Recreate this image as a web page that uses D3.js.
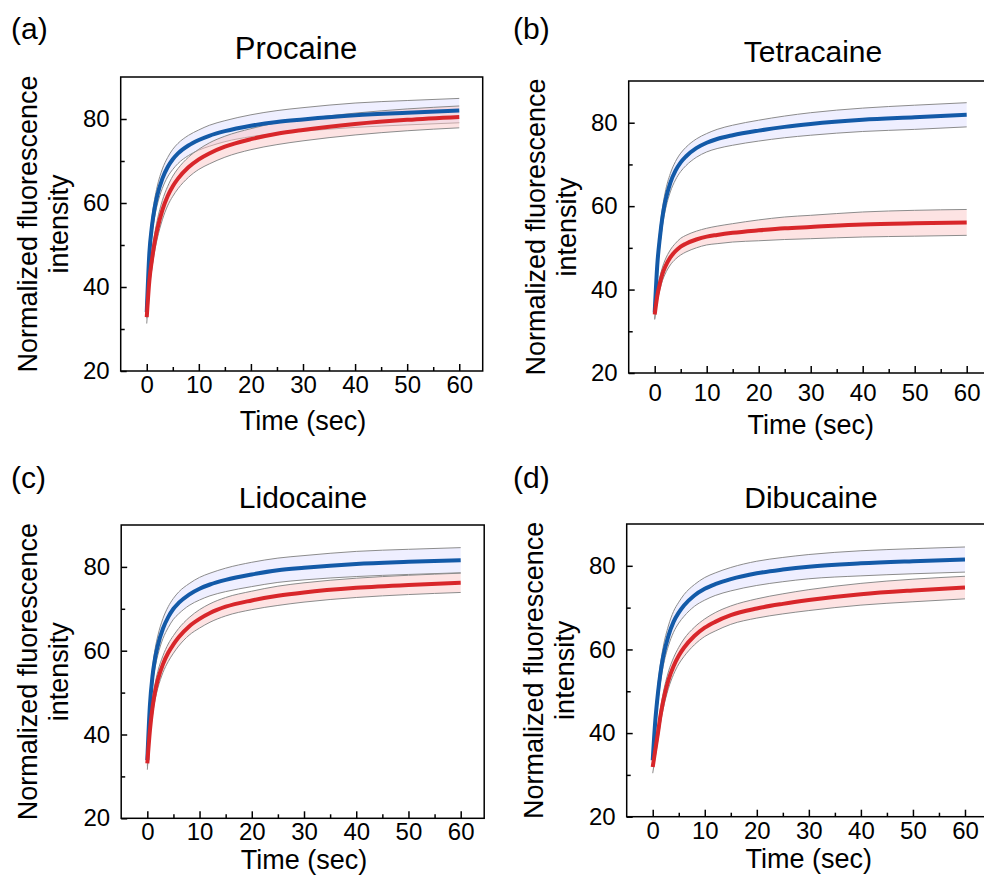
<!DOCTYPE html>
<html>
<head>
<meta charset="utf-8">
<script src="https://cdn.jsdelivr.net/npm/d3@7"></script>
<style>
  html, body { margin: 0; padding: 0; background: #fff; }
  svg { display: block; }
  text { font-family: Arial, "Liberation Sans", Helvetica, sans-serif; fill: #000; }
</style>
</head>
<body>
<svg id="chart" width="984" height="883"></svg>
<script>
// ---------------- data ----------------
const times = [0, 0.5, 1, 1.5, 2, 3, 4, 5, 6, 8, 10, 12, 15, 20, 25, 30, 40, 50, 60];
const panelLabels = ["(a)", "(b)", "(c)", "(d)"];
const titles = ["Procaine", "Tetracaine", "Lidocaine", "Dibucaine"];
const xTicks = [0, 10, 20, 30, 40, 50, 60];
const xMinorTicks = [5, 15, 25, 35, 45, 55];
const yTicks = [20, 40, 60, 80];
const yMinorTicks = [30, 50, 70];
const xLabel = "Time (sec)";
const yLabelLines = ["Normalized fluorescence", "intensity"];

// Procaine
const blueA   = [34.0, 48.0, 54.5, 58.7, 61.7, 65.8, 68.5, 70.4, 71.8, 73.7, 75.0, 76.0, 77.1, 78.4, 79.3, 79.9, 80.9, 81.5, 82.0];
const blueSdA = [1.5, 1.8, 2.0, 2.1, 2.2, 2.3, 2.3, 2.4, 2.4, 2.4, 2.4, 2.5, 2.5, 2.6, 2.7, 2.8, 2.9, 2.9, 2.9];
const redA    = [32.8, 41.5, 46.5, 50.5, 53.6, 58.3, 61.6, 64.0, 65.8, 68.5, 70.4, 71.8, 73.4, 75.2, 76.5, 77.4, 78.8, 79.8, 80.5];
const redSdA  = [1.5, 1.8, 2.0, 2.1, 2.2, 2.3, 2.3, 2.4, 2.4, 2.4, 2.4, 2.5, 2.5, 2.5, 2.6, 2.6, 2.6, 2.6, 2.6];
// Tetracaine
const blueB   = [34.5, 46.0, 52.5, 57.5, 61.0, 65.6, 68.5, 70.5, 71.9, 73.9, 75.2, 76.1, 77.0, 78.1, 79.0, 79.7, 80.7, 81.3, 81.9];
const blueSdB = [1.5, 1.8, 2.0, 2.1, 2.2, 2.2, 2.2, 2.2, 2.2, 2.2, 2.2, 2.3, 2.4, 2.5, 2.6, 2.7, 2.8, 2.9, 2.9];
const redB    = [34.0, 38.5, 41.5, 43.8, 45.4, 47.7, 49.2, 50.3, 51.0, 52.0, 52.7, 53.1, 53.6, 54.2, 54.7, 55.0, 55.6, 55.9, 56.1];
const redSdB  = [1.2, 1.4, 1.5, 1.6, 1.7, 1.8, 1.9, 2.0, 2.0, 2.0, 2.0, 2.1, 2.2, 2.5, 2.7, 2.8, 3.0, 3.1, 3.1];
// Lidocaine
const blueC   = [33.9, 47.0, 54.0, 58.3, 61.2, 65.3, 68.0, 70.0, 71.4, 73.4, 74.8, 75.8, 76.9, 78.2, 79.2, 79.8, 80.7, 81.2, 81.6];
const blueSdC = [1.5, 1.8, 2.0, 2.2, 2.3, 2.4, 2.5, 2.5, 2.6, 2.6, 2.7, 2.7, 2.8, 2.9, 2.9, 2.9, 3.0, 3.0, 3.0];
const redC    = [33.1, 41.0, 46.5, 50.3, 53.0, 56.8, 59.5, 61.5, 63.2, 65.8, 67.6, 69.0, 70.5, 72.0, 73.1, 73.9, 75.0, 75.7, 76.2];
const redSdC  = [1.5, 1.7, 1.8, 1.9, 2.0, 2.0, 2.1, 2.1, 2.1, 2.1, 2.2, 2.2, 2.2, 2.2, 2.3, 2.3, 2.3, 2.3, 2.3];
// Dibucaine
const blueD   = [33.5, 43.0, 49.5, 54.5, 58.2, 63.2, 66.6, 68.8, 70.5, 72.9, 74.5, 75.6, 76.8, 78.2, 79.1, 79.8, 80.6, 81.1, 81.5];
const blueSdD = [1.5, 1.8, 2.0, 2.2, 2.3, 2.4, 2.5, 2.5, 2.6, 2.6, 2.7, 2.7, 2.8, 2.9, 2.9, 2.9, 3.0, 3.0, 3.0];
const redD    = [31.9, 36.0, 40.0, 44.2, 47.6, 52.6, 56.0, 58.5, 60.4, 63.2, 65.2, 66.6, 68.2, 69.8, 70.9, 71.8, 73.2, 74.1, 74.8];
const redSdD  = [1.5, 1.6, 1.7, 1.8, 1.9, 2.0, 2.0, 2.0, 2.1, 2.1, 2.1, 2.2, 2.2, 2.3, 2.4, 2.5, 2.6, 2.7, 2.7];

const seriesByPanel = [
  { blue: blueA, blueSd: blueSdA, red: redA, redSd: redSdA },
  { blue: blueB, blueSd: blueSdB, red: redB, redSd: redSdB },
  { blue: blueC, blueSd: blueSdC, red: redC, redSd: redSdC },
  { blue: blueD, blueSd: blueSdD, red: redD, redSd: redSdD }
];

// ---------------- layout ----------------
const layouts = [
  { x0: 120.7, x1: 482.7, top: 77,  bottom: 371,   lab: [11, 39],  title: [296, 59],  tsize: 31, tickPad: 5,  xlab: 59 },
  { x0: 628.7, x1: 990.1, top: 81,  bottom: 373,   lab: [513, 39], title: [813, 62],  tsize: 30, tickPad: 11, xlab: 61 },
  { x0: 121.2, x1: 484.2, top: 525, bottom: 818.3, lab: [11, 488], title: [303, 508], tsize: 30, tickPad: 5,  xlab: 51 },
  { x0: 626.7, x1: 988.4, top: 524, bottom: 816.7, lab: [513, 488], title: [811, 508], tsize: 30, tickPad: 5, xlab: 51 }
];

const COLORS = {
  blue: "#135aa8", red: "#d8262a",
  blueBand: "rgba(228,228,255,0.6)", redBand: "rgba(252,200,200,0.5)",
  bandEdge: "#8c8c8c"
};

const svg = d3.select("#chart");
const curve = d3.curveMonotoneX;

layouts.forEach((L, i) => {
  const S = seriesByPanel[i];
  const x = d3.scaleLinear().domain([-5, 64.5]).range([L.x0, L.x1]);
  const y = d3.scaleLinear().domain([20, 90]).range([L.bottom, L.top]);
  const g = svg.append("g");

  const pts = (vals, sd, sign) => times.map((t, k) => [t, vals[k] + sign * (sd ? sd[k] : 0)]);
  const area = d3.area().curve(curve)
    .x((d, k) => x(times[k])).y0(d => y(d[0])).y1(d => y(d[1]));
  const line = d3.line().curve(curve).x(d => x(d[0])).y(d => y(d[1]));

  function band(vals, sd, fill) {
    const data = times.map((t, k) => [vals[k] - sd[k], vals[k] + sd[k]]);
    g.append("path").attr("d", area(data)).attr("fill", fill).attr("stroke", "none");
    g.append("path").attr("d", line(pts(vals, sd, 1))).attr("fill", "none")
      .attr("stroke", COLORS.bandEdge).attr("stroke-width", 1);
    g.append("path").attr("d", line(pts(vals, sd, -1))).attr("fill", "none")
      .attr("stroke", COLORS.bandEdge).attr("stroke-width", 1);
  }
  band(S.blue, S.blueSd, COLORS.blueBand);
  band(S.red, S.redSd, COLORS.redBand);

  g.append("path").attr("d", line(pts(S.blue, null, 0))).attr("fill", "none")
    .attr("stroke", COLORS.blue).attr("stroke-width", 4);
  g.append("path").attr("d", line(pts(S.red, null, 0))).attr("fill", "none")
    .attr("stroke", COLORS.red).attr("stroke-width", 4);

  // axes (inward ticks)
  const xa = g.append("g").attr("transform", `translate(0,${L.bottom})`)
    .call(d3.axisBottom(x).tickValues(xTicks).tickSize(-7).tickPadding(L.tickPad).tickFormat(d3.format("d")));
  const xm = g.append("g").attr("transform", `translate(0,${L.bottom})`)
    .call(d3.axisBottom(x).tickValues(xMinorTicks).tickSize(-4).tickFormat(""));
  const ya = g.append("g").attr("transform", `translate(${L.x0},0)`)
    .call(d3.axisLeft(y).tickValues(yTicks).tickSize(-6).tickPadding(11).tickFormat(d3.format("d")));
  const ym = g.append("g").attr("transform", `translate(${L.x0},0)`)
    .call(d3.axisLeft(y).tickValues(yMinorTicks).tickSize(-4).tickFormat(""));
  [xa, xm, ya, ym].forEach(a => {
    a.select(".domain").remove();
    a.selectAll("line").attr("stroke", "#000").attr("stroke-width", 1.5);
    a.selectAll("text").attr("font-size", 24).attr("font-family", "Arial, 'Liberation Sans', sans-serif").attr("fill", "#000");
  });

  // frame
  g.append("rect").attr("x", L.x0).attr("y", L.top)
    .attr("width", L.x1 - L.x0).attr("height", L.bottom - L.top)
    .attr("fill", "none").attr("stroke", "#000").attr("stroke-width", 1.5);

  // labels
  g.append("text").attr("x", L.lab[0]).attr("y", L.lab[1]).attr("font-size", 30).text(panelLabels[i]);
  g.append("text").attr("x", L.title[0]).attr("y", L.title[1]).attr("text-anchor", "middle")
    .attr("font-size", L.tsize).text(titles[i]);
  g.append("text").attr("x", x(30)).attr("y", L.bottom + L.xlab).attr("text-anchor", "middle")
    .attr("font-size", 27).text(xLabel);
  const cy = (L.top + L.bottom) / 2;
  yLabelLines.forEach((t, k) => {
    const bx = L.x0 - (k === 0 ? 84 : 53);
    g.append("text").attr("transform", `translate(${bx},${cy}) rotate(-90)`)
      .attr("text-anchor", "middle").attr("font-size", 27).text(t);
  });
});
</script>
</body>
</html>
